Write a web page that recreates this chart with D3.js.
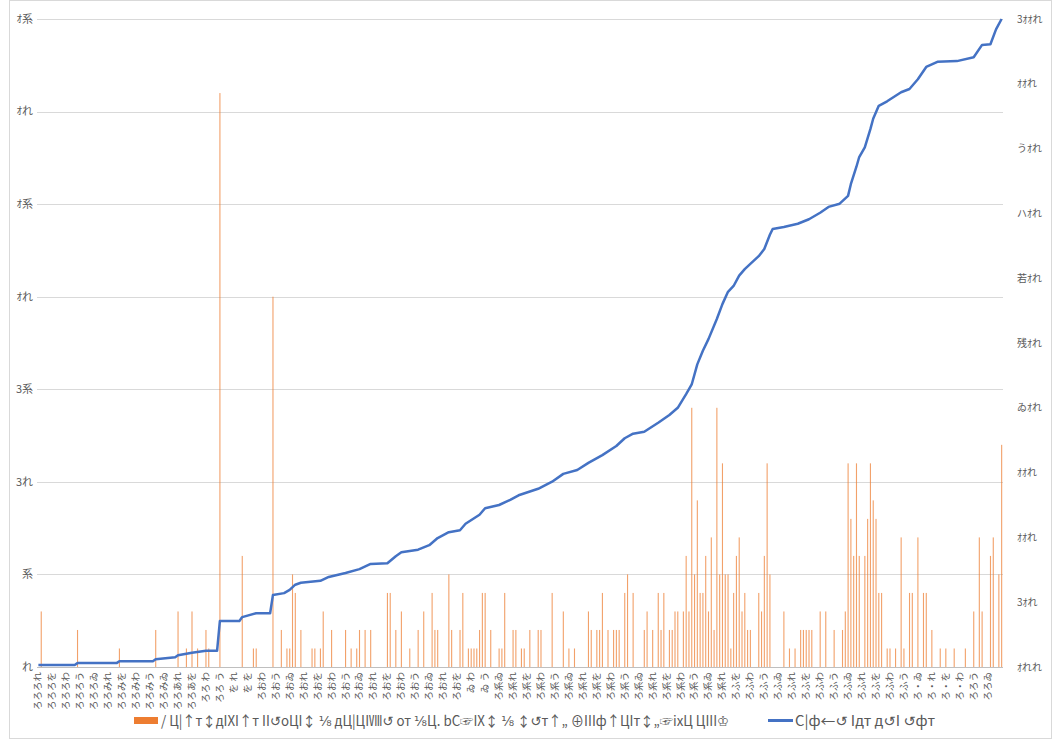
<!DOCTYPE html>
<html>
<head>
<meta charset="utf-8">
<script src="https://cdnjs.cloudflare.com/ajax/libs/d3/7.8.5/d3.min.js"></script>
<style>
  body { margin: 0; background: #fff; }
  text { font-family: "Noto Sans CJK JP", "DejaVu Sans", sans-serif; fill: #595959; }
</style>
</head>
<body>
<div id="chart"></div>
<script>
// bar series (left axis), one value per category
var barValues = [
  0,3,0,0,0,0,0,0,0,0, 0,0,0,0,2,0,0,0,0,0,
  0,0,0,0,0,0,0,0,0,1, 0,0,0,0,0,0,0,0,0,0,
  0,0,2,0,0,0,0,0,0,0, 3,0,0,1,0,3,0,1,0,0,
  2,1,0,0,0,31,0,0,0,0, 0,0,0,6,0,0,0,1,1,0,
  0,0,0,0,20,0,0,2,0,1, 1,5,4,0,2,0,0,0,1,1,
  0,1,3,0,0,2,0,0,0,0, 2,0,1,0,1,2,0,2,0,2,
  0,0,0,0,0,4,4,0,2,0, 3,0,0,1,0,0,2,0,3,0,
  0,4,2,2,0,0,0,5,2,0, 0,2,4,0,1,1,1,1,2,4,
  4,0,2,0,0,1,1,4,0,0, 2,2,0,1,1,0,2,0,0,2,
  2,0,0,0,4,0,0,0,3,0, 1,0,1,0,0,0,0,3,2,0,
  2,2,4,0,2,0,2,2,2,0, 4,5,0,4,0,0,0,2,3,0,
  2,0,4,2,4,0,2,2,3,3, 0,3,6,3,14,5,9,4,4,6,
  3,7,2,14,5,11,5,5,1,4, 6,7,3,4,2,2,0,0,4,3,
  6,11,5,0,0,0,0,3,0,1, 0,1,0,2,2,2,2,2,0,0,
  3,0,3,0,0,2,0,0,2,3, 11,8,6,11,6,0,6,8,11,9,
  8,4,4,0,1,1,0,1,0,7, 1,0,4,4,0,7,0,4,4,0,
  2,0,0,1,0,1,0,0,1,0, 0,0,1,0,0,3,0,7,3,0,
  0,6,7,0,5,12
];

// line series (right axis): category index and value
var lineCat = [0,13,14,28,29,41,42,49,50,55,60,64,65,72,73,78,83,84,88,90,92,94,101,104,110,115,119,125,128,130,136,140,143,147,151,153,158,160,165,169,172,179,184,188,193,197,202,207,210,213,217,222,226,229,232,234,236,238,240,243,245,247,249,251,253,255,258,260,262,263,267,272,276,280,283,287,290,291,293,294,296,298,299,301,304,309,312,315,318,322,329,335,338,341,343,345];
var lineVal = [3,3,6,6,9,9,12,15,18,22,25,25,71,71,77,83,83,111,114,119,127,130,133,139,145,151,159,160,171,177,181,188,199,208,211,221,235,245,250,258,265,275,286,298,304,315,327,341,353,360,363,377,389,400,421,436,467,488,506,537,560,579,588,604,614,622,634,645,667,676,679,684,691,701,710,715,727,745,772,787,802,830,846,866,873,887,892,907,926,934,935,941,960,961,984,1000];

// tick labels (as they appear in the chart)
var leftTicks = [0, 5, 10, 15, 20, 25, 30, 35];
var leftTickLabels = ["れ", "系", "3れ", "3系", "ｵれ", "ｵ系", "ｵれ", "ｵ系"];
var rightTicks = [0, 100, 200, 300, 400, 500, 600, 700, 800, 900, 1000];
var rightTickLabels = ["ｵれれ", "3ｵれ", "ｵｵれ", "ｵｵれ", "ゐｵれ", "残ｵれ", "若ｵれ", "ハｵれ", "うｵれ", "ｵｵれ", "3ｵｵれ"];
var xLabels = [
  "ろろろれ","ろろろを","ろろろわ","ろろろう","ろろろゐ",
  "ろろみれ","ろろみを","ろろみわ","ろろみう","ろろみゐ",
  "ろろあれ","ろろあを","ろろ わ","ろろ う","を れ",
  "を を","ろおわ","ろおう","ろおゐ","ろおれ",
  "ろおを","ろおわ","ろおう","ろおゐ","ろおれ",
  "ろおを","ろおわ","ろおう","ろおゐ","ろおれ",
  "ろおを","ゐ わ","ゐ う","ろ系ゐ","ろ系れ",
  "ろ系を","ろ系わ","ろ系う","ろ系ゐ","ろ系れ",
  "ろ系を","ろ系わ","ろ系う","ろ系ゐ","ろ系れ",
  "ろ系を","ろ系わ","ろ系う","ろ系ゐ","ろ系れ",
  "ろふを","ろふわ","ろふう","ろふゐ","ろふれ",
  "ろふを","ろふわ","ろふう","ろふゐ","ろふれ",
  "ろふを","ろふわ","ろふう","ろ・ゐ","ろ・れ",
  "ろ・を","ろ・わ","ろろう","ろろゐ"
];
var labelStep = 5;
var legendText = [
  "/ Ц|↑т↕дIXI↑т II↺oЦI↕ ⅛ дЦ|ЦIⅧ↺ от ⅛Ц. bC☞IX↕ ⅛ ↕↺т↑„ ⊕IIIф↑ЦIт↕„☞ixЦ ЦIII♔",
  "C|ф←↺ Iдт д↺I ↺фт"
];

var width = 1058, height = 740;
var plot = { left: 37, right: 1003, top: 19, bottom: 667 };

var svg = d3.select("#chart").append("svg")
  .attr("width", width)
  .attr("height", height);

// outer chart frame
svg.append("rect")
  .attr("x", 9.5).attr("y", 0.5)
  .attr("width", 1042).attr("height", 738)
  .style("fill", "none")
  .style("stroke", "#d9d9d9");

var x = d3.scaleBand()
  .domain(d3.range(barValues.length))
  .range([plot.left, plot.right]);

var yLeft = d3.scaleLinear().domain([0, 35]).range([plot.bottom, plot.top]);
var yRight = d3.scaleLinear().domain([0, 1000]).range([plot.bottom, plot.top]);

// gridlines
svg.append("g").selectAll("line")
  .data(leftTicks)
  .enter().append("line")
    .attr("x1", plot.left).attr("x2", plot.right)
    .attr("y1", function(d) { return Math.round(yLeft(d)) + 0.5; })
    .attr("y2", function(d) { return Math.round(yLeft(d)) + 0.5; })
    .style("stroke", function(d) { return d === 0 ? "#bfbfbf" : "#d9d9d9"; })
    .style("stroke-width", 1);

// left axis labels
svg.append("g").selectAll("text")
  .data(leftTicks)
  .enter().append("text")
    .attr("x", 33)
    .attr("y", function(d) { return yLeft(d); })
    .attr("dy", "0.35em")
    .attr("text-anchor", "end")
    .style("font-size", "11px")
    .text(function(d, i) { return leftTickLabels[i]; });

// right axis labels
svg.append("g").selectAll("text")
  .data(rightTicks)
  .enter().append("text")
    .attr("x", 1017)
    .attr("y", function(d) { return yRight(d); })
    .attr("dy", "0.35em")
    .attr("text-anchor", "start")
    .style("font-size", "10px")
    .text(function(d, i) { return rightTickLabels[i]; });

// x labels, one every labelStep categories
svg.append("g").selectAll("text")
  .data(xLabels)
  .enter().append("text")
    .attr("transform", function(d, i) {
      var cx = x(i * labelStep) + x.bandwidth() / 2 + 3;
      return "translate(" + cx + "," + (plot.bottom + 5) + ") rotate(-90)";
    })
    .attr("text-anchor", "end")
    .style("font-size", "9.5px")
    .text(function(d) { return d; });

// bars (zero values are left out)
var bars = barValues
  .map(function(v, i) { return { i: i, v: v }; })
  .filter(function(d) { return d.v > 0; });

svg.append("g").selectAll("rect")
  .data(bars)
  .enter().append("rect")
    .attr("x", function(d) { return x(d.i) + x.bandwidth() / 2 - 0.5; })
    .attr("y", function(d) { return yLeft(d.v); })
    .attr("width", 1.1)
    .attr("height", function(d) { return yLeft(0) - yLeft(d.v); })
    .style("fill", "#ED7D31")
    .style("opacity", 0.72);

// line
var line = d3.line()
  .x(function(d) { return x(d[0]) + x.bandwidth() / 2; })
  .y(function(d) { return yRight(d[1]); });

svg.append("path")
  .datum(lineCat.map(function(c, i) { return [c, lineVal[i]]; }))
  .attr("d", line)
  .style("fill", "none")
  .style("stroke", "#4472C4")
  .style("stroke-width", 2.5)
  .style("stroke-linejoin", "round");

// legend
var legend = svg.append("g");
legend.append("rect")
  .attr("x", 134).attr("y", 717)
  .attr("width", 24).attr("height", 7)
  .style("fill", "#ED7D31");
legend.append("text")
  .attr("x", 161).attr("y", 726)
  .attr("textLength", 568)
  .attr("lengthAdjust", "spacingAndGlyphs")
  .style("font-size", "14px")
  .text(legendText[0]);
legend.append("line")
  .attr("x1", 768).attr("x2", 793)
  .attr("y1", 720.5).attr("y2", 720.5)
  .style("stroke", "#4472C4")
  .style("stroke-width", 3);
legend.append("text")
  .attr("x", 795).attr("y", 726)
  .attr("textLength", 140)
  .attr("lengthAdjust", "spacingAndGlyphs")
  .style("font-size", "14px")
  .text(legendText[1]);
</script>
</body>
</html>
